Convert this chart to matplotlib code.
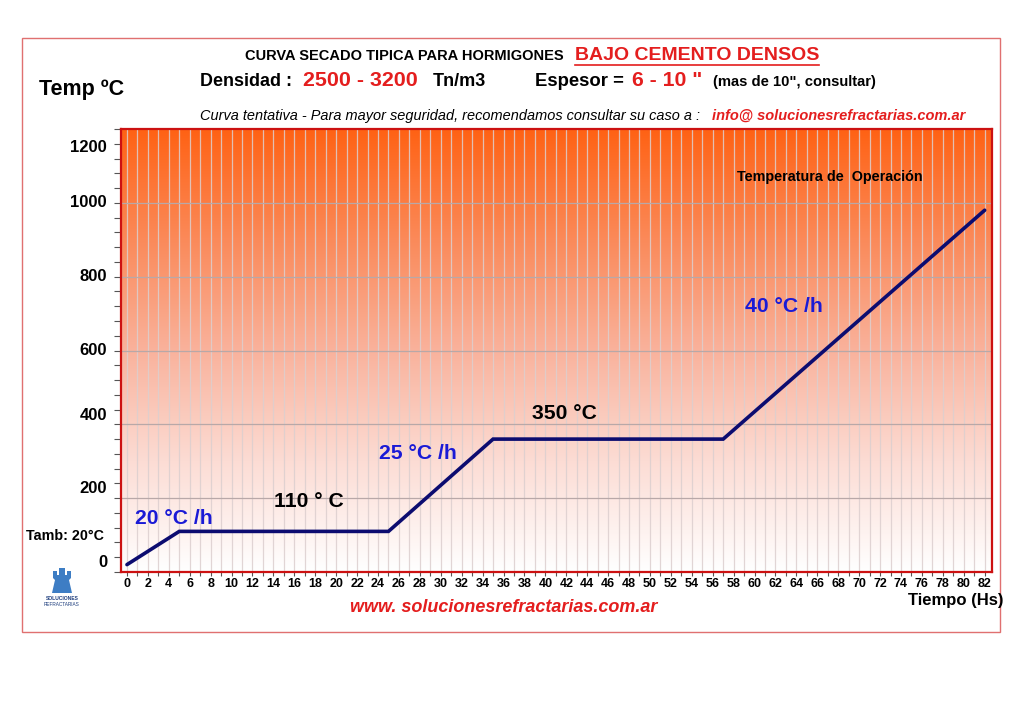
import matplotlib.pyplot as plt
import numpy as np
from matplotlib.colors import LinearSegmentedColormap
from matplotlib.patches import Rectangle, Polygon
from matplotlib.lines import Line2D

hours = [0, 5, 25, 35, 57, 82]
temps = [20, 110, 110, 360, 360, 980]
y_ticks = [0, 200, 400, 600, 800, 1000, 1200]
x_ticks = list(range(0, 83, 2))

plt.rcParams['font.family'] = ['Liberation Sans', 'DejaVu Sans']

W, H = 1024, 725
fig = plt.figure(figsize=(W / 100, H / 100), dpi=100)


def px(x, y):
    return x / W, 1 - y / H


ax = fig.add_axes([121 / W, 1 - 572 / H, (992 - 121) / W, (572 - 129) / H])
xmin, xmax = -0.57, 82.7
ax.set_xlim(xmin, xmax)
ax.set_ylim(0, 1200)

# orange -> white background
cmap = LinearSegmentedColormap.from_list(
    'bg', [(0, '#ffffff'), (0.25, '#fcdcd4'), (0.5, '#f9b29c'), (0.75, '#fb8a5a'), (1, '#ff6214')])
grad = np.linspace(0, 1, 256).reshape(-1, 1)
ax.imshow(grad, extent=[xmin, xmax, 0, 1200], origin='lower', aspect='auto',
          cmap=cmap, zorder=0)

for h in range(0, 83):
    ax.axvline(h, color='#dccfcf', lw=0.9, alpha=0.85, zorder=1)
for t in y_ticks[1:-1]:
    ax.axhline(t, color='#b8a8a8', lw=0.9, zorder=1)

ax.plot(hours, temps, color='#0c0c70', lw=2.6, solid_capstyle='round',
        solid_joinstyle='miter', zorder=3)

for s in ax.spines.values():
    s.set_color('#cc1111')
    s.set_linewidth(1.6)

ax.set_xticks(x_ticks)
ax.set_xticklabels([str(v) for v in x_ticks], fontsize=9, fontweight='bold')
ax.set_xticks(range(0, 83), minor=True)
ax.set_yticks(y_ticks)
ax.set_yticklabels([])
ax.set_yticks(range(0, 1201, 40), minor=True)
ax.tick_params(axis='x', which='both', direction='out', length=3, width=0.8,
               color='#555555', pad=1)
ax.tick_params(axis='y', which='both', direction='out', length=5, width=0.8,
               color='#555555')

# y labels sit a little off the grid lines, as in the original
ylab_pos = [27, 225, 425, 600, 800, 1000, 1150]
for v, p in zip(y_ticks, ylab_pos):
    ax.text(-0.016, p, str(v), transform=ax.get_yaxis_transform(), ha='right',
            va='center', fontsize=12, fontweight='bold')

# annotations on the curve
blue = '#1a1ad6'
fs = 15.2
ax.text(0.75, 145, '20 °C /h', color=blue, fontsize=fs, fontweight='bold', va='center')
ax.text(14.1, 190, '110 ° C', color='black', fontsize=fs, fontweight='bold', va='center')
ax.text(24.1, 320, '25 °C /h', color=blue, fontsize=fs, fontweight='bold', va='center')
ax.text(38.7, 430, '350 °C', color='black', fontsize=fs, fontweight='bold', va='center')
ax.text(59.1, 720, '40 °C /h', color=blue, fontsize=fs, fontweight='bold', va='center')
ax.text(58.3, 1070, 'Temperatura de  Operación', color='black', fontsize=10.4,
        fontweight='bold', va='center')

# outer frame
fig.patches.append(Rectangle(px(22, 632), 978 / W, 594 / H, transform=fig.transFigure,
                             fill=False, edgecolor='#e07070', lw=1.0))

# header
fig.text(*px(245, 56), 'CURVA SECADO TIPICA PARA HORMIGONES', fontsize=10.5,
         fontweight='bold', va='center')
t_red = fig.text(*px(575, 55), 'BAJO CEMENTO DENSOS', fontsize=14, color='#e41e1e',
                 fontweight='bold', va='center')
fig.text(*px(200, 81), 'Densidad :', fontsize=12.9, fontweight='bold', va='center')
fig.text(*px(303, 80), '2500 - 3200', fontsize=15.4, fontweight='bold', color='#e41e1e',
         va='center')
fig.text(*px(433, 81), 'Tn/m3', fontsize=13, fontweight='bold', va='center')
fig.text(*px(535, 81), 'Espesor =', fontsize=13.3, fontweight='bold', va='center')
fig.text(*px(632, 80), '6 - 10 "', fontsize=15.3, fontweight='bold', color='#e41e1e',
         va='center')
fig.text(*px(713, 82), '(mas de 10", consultar)', fontsize=10.6, fontweight='bold',
         va='center')
fig.text(*px(200, 116), 'Curva tentativa - Para mayor seguridad, recomendamos consultar su caso a :',
         fontsize=10.45, fontstyle='italic', va='center')
fig.text(*px(712, 116), 'info@ solucionesrefractarias.com.ar', fontsize=10.5,
         fontstyle='italic', fontweight='bold', color='#e41e1e', va='center')
fig.text(*px(39, 90), 'Temp ºC', fontsize=15.5, fontweight='bold', va='center')
fig.text(*px(26, 536), 'Tamb: 20°C', fontsize=10.3, fontweight='bold', va='center')
fig.text(*px(1003, 601), 'Tiempo (Hs)', fontsize=12, fontweight='bold', va='center',
         ha='right')
fig.text(*px(504, 608), 'www. solucionesrefractarias.com.ar', fontsize=13,
         fontweight='bold', fontstyle='italic', color='#e41e1e', va='center', ha='center')

# logo
logo = [(52, 593), (55, 580), (53, 578), (53, 571), (57, 571), (57, 575), (59, 575),
        (59, 568), (65, 568), (65, 575), (67, 575), (67, 571), (71, 571), (71, 578),
        (69, 580), (72, 593)]
fig.patches.append(Polygon([px(*p) for p in logo], closed=True, transform=fig.transFigure,
                           facecolor='#3d7dc4', edgecolor='none'))
fig.text(*px(62, 598), 'SOLUCIONES', fontsize=3.6, fontweight='bold', color='#1c3c7c',
         ha='center', va='center')
fig.text(*px(62, 604), 'REFRACTARIAS', fontsize=3.4, color='#1c3c7c', ha='center',
         va='center')

# underline of the red title
fig.canvas.draw()
bb = t_red.get_window_extent().transformed(fig.transFigure.inverted())
fig.lines.append(Line2D([bb.x0, bb.x1], [bb.y0 - 0.002, bb.y0 - 0.002],
                        transform=fig.transFigure, color='#e41e1e', lw=1.2))

fig.savefig('out.png', dpi=100)
